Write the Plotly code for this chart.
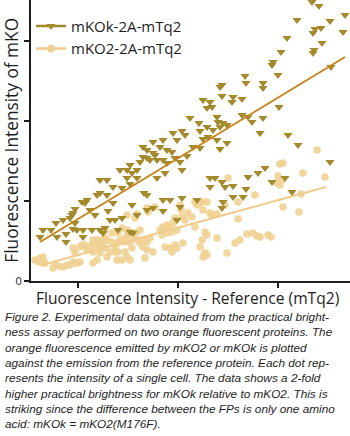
import plotly.graph_objects as go

# mKOk-2A-mTq2 (triangles): reference intensity, mKO intensity (arbitrary units)
mkok_x = [62,65,73,78,79,85,88,88,92,94,95,95,97,97,99,104,105,105,107,109,112,114,117,119,122,122,122,125,127,129,129,130,132,135,135,137,140,142,144,144,149,149,152,152,152,154,154,155,159,159,159,162,165,165,166,169,169,169,169,172,175,175,175,177,179,179,182,185,185,185,185,187,189,189,192,194,195,197,199,199,202,202,204,204,204,207,209,212,215,219,221,222,222,225,225,229,229,230,232,232,232,234,235,237,239,239,240,242,242,242,244,244,244,244,245,245,247,249,249,254,255,255,255,264,264,265,267,268,268,270,270,274,280,282,285,285,285,287,294,294,295,300,301,303,307,309,310,314,319,320,334,335,335,336,337,341,343,344,352,352,353,365,367]
mkok_y = [44,51,51,58,44,61,47,39,63,66,68,52,58,72,51,79,51,44,78,81,71,51,66,86,88,101,51,48,53,86,101,70,61,78,94,61,51,111,93,63,111,103,97,49,116,76,108,48,66,111,103,119,134,124,88,131,123,86,71,121,139,128,73,126,121,103,134,141,121,81,70,108,131,118,81,129,148,123,141,61,119,74,150,111,83,146,125,163,134,81,158,150,133,181,142,173,154,144,179,103,94,174,151,103,164,141,159,194,154,132,196,185,99,73,158,79,94,156,138,179,184,95,84,182,166,84,205,198,92,164,104,159,108,148,198,193,163,113,99,216,219,206,174,229,103,243,146,89,261,136,279,248,228,231,252,275,253,238,260,119,214,249,266]

# mKO2-2A-mTq2 (circles)
mko2_x = [57,60,62,65,67,65,75,77,80,85,89,92,95,97,100,102,97,95,102,104,107,109,109,114,115,115,115,117,119,119,120,122,122,124,125,127,127,127,129,129,132,134,134,137,137,139,140,140,140,142,144,144,147,147,147,149,149,149,150,152,152,152,154,155,157,159,159,159,162,162,165,165,167,169,169,169,170,172,175,177,182,184,185,187,189,189,192,192,194,194,195,197,197,199,199,202,203,204,205,207,210,214,217,217,219,222,222,224,224,225,225,227,227,229,229,229,232,234,239,239,247,249,250,257,260,260,262,269,275,277,279,282,290,293,299,300,302,302,304,305,305,321,323,325,339,347]
mko2_y = [21,19,23,18,18,24,13,17,15,14,16,16,19,18,18,19,28,33,34,36,36,34,31,36,41,29,18,34,41,21,38,36,28,41,38,51,43,33,41,24,29,48,39,33,29,21,48,38,29,41,53,21,43,39,29,66,51,24,46,49,39,21,33,44,63,67,49,41,51,38,41,34,23,73,39,31,69,43,29,74,51,46,54,34,56,48,54,33,49,29,58,63,36,51,33,76,71,64,38,61,68,64,79,54,76,78,34,79,41,71,24,49,28,79,46,26,68,66,67,43,76,28,103,38,79,62,41,47,48,86,45,44,46,44,98,105,117,96,101,118,74,69,87,108,131,104]

# linear fits (endpoints)
fit_x_k = [62, 367]
fit_y_k = [39, 224]
fit_x_2 = [64, 348]
fit_y_2 = [16, 94]

names = ["mKOk-2A-mTq2", "mKO2-2A-mTq2"]

COL_K_MARK = "#a48a2c"
COL_K_LINE = "#c8831f"
COL_2_MARK = "#f0d193"
COL_2_LINE = "#f1cb8c"

fig = go.Figure()
fig.add_trace(go.Scatter(x=mko2_x, y=mko2_y, mode="markers", showlegend=False,
                         marker=dict(symbol="circle", size=7.5, color=COL_2_MARK, opacity=0.9),
                         cliponaxis=False))
fig.add_trace(go.Scatter(x=fit_x_2, y=fit_y_2, mode="lines", showlegend=False,
                         line=dict(color=COL_2_LINE, width=2)))
fig.add_trace(go.Scatter(x=mkok_x, y=mkok_y, mode="markers", showlegend=False,
                         marker=dict(symbol="triangle-down", size=8, color=COL_K_MARK),
                         cliponaxis=False))
fig.add_trace(go.Scatter(x=fit_x_k, y=fit_y_k, mode="lines", showlegend=False,
                         line=dict(color=COL_K_LINE, width=2)))
# legend entries
fig.add_trace(go.Scatter(x=[None], y=[None], mode="lines+markers", name=names[0],
                         line=dict(color=COL_K_MARK, width=2.5),
                         marker=dict(symbol="triangle-down", size=8, color=COL_K_MARK)))
fig.add_trace(go.Scatter(x=[None], y=[None], mode="lines+markers", name=names[1],
                         line=dict(color=COL_2_LINE, width=2.5),
                         marker=dict(symbol="circle", size=8, color=COL_2_MARK)))

caption_lines = [
    "Figure 2. Experimental data obtained from the practical bright-",
    "ness assay performed on two orange fluorescent proteins. The",
    "orange fluorescence emitted by mKO2 or mKOk is plotted",
    "against the emission from the reference protein. Each dot rep-",
    "resents the intensity of a single cell. The data shows a 2-fold",
    "higher practical brightness for mKOk relative to mKO2. This is",
    "striking since the difference between the FPs is only one amino",
    "acid: mKOk = mKO2(M176F).",
]

TITLE_FONT = dict(family="Open Sans", size=15.6, color="#1e1e1e")

fig.update_layout(
    width=350, height=436,
    margin=dict(l=31, r=0, t=0, b=155),
    paper_bgcolor="white", plot_bgcolor="white",
    showlegend=True,
    legend=dict(x=0.0, y=0.965, xanchor="left", yanchor="top",
                bgcolor="rgba(0,0,0,0)", font=dict(family="Open Sans", size=15, color="#1e1e1e"),
                itemwidth=30, tracegroupgap=0),
    xaxis=dict(range=[53, 372], showgrid=False, zeroline=False,
               showline=True, linecolor="#1e1e1e", linewidth=2,
               ticks="outside", ticklen=5, tickwidth=1.5, tickcolor="#1e1e1e",
               tickvals=[100, 200, 300], showticklabels=False),
    yaxis=dict(range=[0, 281], showgrid=False, zeroline=False,
               showline=True, linecolor="#1e1e1e", linewidth=2,
               ticks="outside", ticklen=5, tickwidth=1.5, tickcolor="#1e1e1e",
               tickvals=[0, 80, 160, 240], ticktext=["0", "", "", ""],
               tickfont=dict(family="Open Sans", size=11, color="#1e1e1e")),
    annotations=[
        dict(text="Fluorescence Intensity - Reference (mTq2)", xref="paper", yref="paper",
             x=0.49, y=-0.06, xanchor="center", yanchor="middle", showarrow=False,
             font=TITLE_FONT),
        dict(text="Fluorescence Intensity of mKO", xref="paper", yref="paper",
             x=-0.062, y=0.5, xanchor="center", yanchor="middle", textangle=-90,
             showarrow=False, font=dict(family="Open Sans", size=17.3, color="#1e1e1e")),
        dict(text="<br>".join(caption_lines), xref="paper", yref="paper",
             x=-0.089, y=-0.096, xanchor="left", yanchor="top", align="left",
             showarrow=False,
             font=dict(family="Liberation Sans", size=11.8, color="#1e1e1e", style="italic")),
    ],
)

fig.write_html("out.html")
